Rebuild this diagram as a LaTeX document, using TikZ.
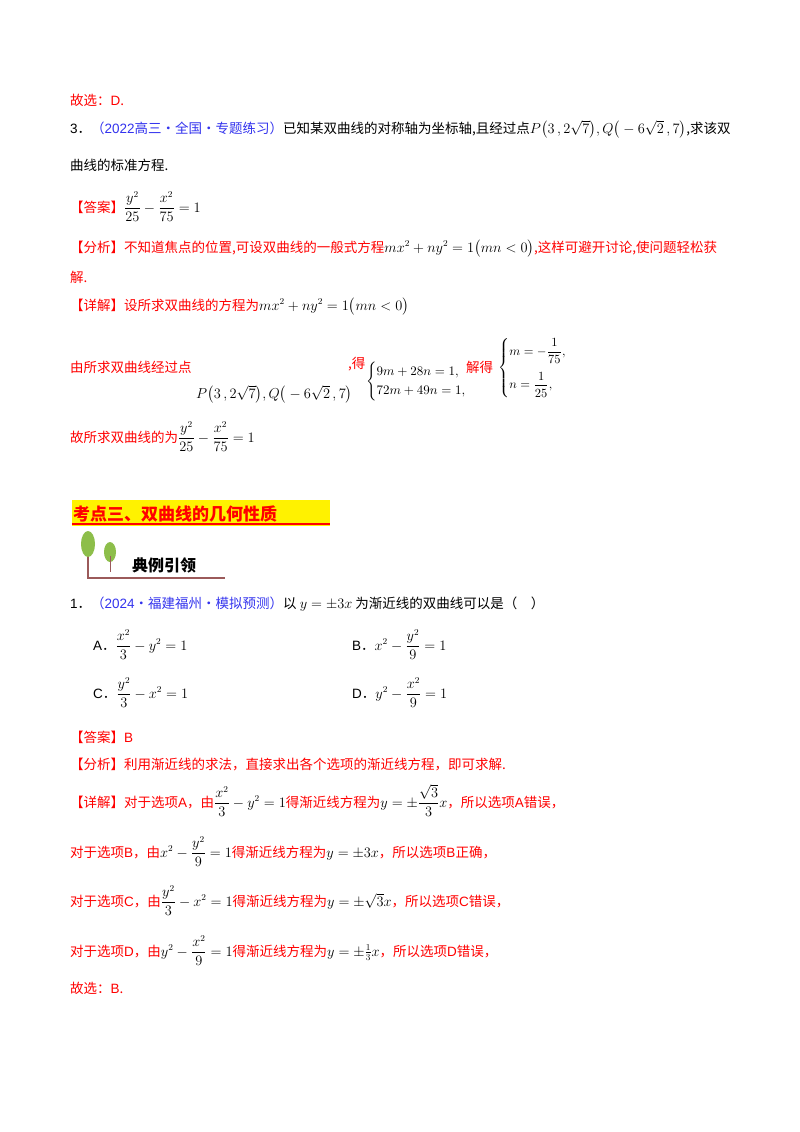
\documentclass[tikz,border=0pt]{standalone}
\usepackage{amsmath}
\usepackage{graphicx}
\usepackage{fontspec}
\setmainfont{Noto Sans CJK SC}
\newfontfamily\lat{Liberation Sans}
\definecolor{rd}{HTML}{FF0000}
\definecolor{bl}{HTML}{3333EE}
\definecolor{lf}{HTML}{8DBE4A}
\definecolor{tr}{HTML}{9B5A5A}
\begin{document}
\begin{tikzpicture}[x=1pt,y=-1pt,
  t/.style={anchor=base west,inner sep=0pt,font=\fontsize{13.5}{16}\selectfont},
  r/.style={t,text=rd}]
\useasboundingbox[fill=white] (0,0) rectangle (800,1132);
\node[r] (l1) at (70,105) {故选：{\lat D}.};
\node[t] (l2) at (70,133) {{\lat 3}．\textcolor{bl}{（{\lat 2022}高三·全国·专题练习）}已知某双曲线的对称轴为坐标轴,且经过点$P\big(3\,,2\sqrt7\big),Q\big(-6\sqrt2\,,7\big)$,求该双};
\node[t] (l3) at (70,170) {曲线的标准方程.};
\node[r] (l4) at (70,212) {【答案】\textcolor{black}{$\dfrac{y^2}{25}-\dfrac{x^2}{75}=1$}};
\node[r] (l5) at (70,252) {【分析】不知道焦点的位置,可设双曲线的一般式方程\textcolor{black}{$mx^2+ny^2=1\big(mn<0\big)$},这样可避开讨论,使问题轻松获};
\node[r] (l6) at (70,282) {解.};
\node[r] (l7) at (70,310) {【详解】设所求双曲线的方程为\textcolor{black}{$mx^2+ny^2=1\big(mn<0\big)$}};
\node[r] (l8) at (70,372) {由所求双曲线经过点};
\node[t] (pq) at (196,398) {$P\big(3\,,2\sqrt7\big),Q\big(-6\sqrt2\,,7\big)$};
\node[r] (de) at (348,368) {,得};
\node[anchor=west,inner sep=0pt] (s1) at (366,381) {\scalebox{1.3}{$\begin{cases}9m+28n=1,\\72m+49n=1,\end{cases}$}};
\node[r] (jd) at (466,372) {解得};
\node[anchor=west,inner sep=0pt] (s2) at (498,368) {\scalebox{1.25}{$\left\{\begin{array}{@{}l@{}}m=-\dfrac{1}{75},\\[10pt] n=\dfrac{1}{25},\end{array}\right.$}};
\node[r] (l9) at (70,442) {故所求双曲线的为\textcolor{black}{$\dfrac{y^2}{25}-\dfrac{x^2}{75}=1$}};
% section header
\fill[yellow] (72,500) rectangle (330,526);
\node[t,text=rd,font=\fontsize{17}{20}\selectfont\bfseries,anchor=base west] (hd) at (73,520) {考点三、双曲线的几何性质};
\draw[rd,line width=1.2pt] (72,524) -- (330,524);
% icon
\draw[tr,line width=1.2pt] (88,555) -- (88,578) -- (225,578);
\fill[lf] (88,544) ellipse (7 and 13);
\fill[lf] (110,552) ellipse (6 and 10);
\draw[tr,line width=0.8pt] (110,556) -- (110,572);
\node[t,font=\fontsize{16}{18}\selectfont\bfseries] (dl) at (132,571) {典例引领};
% question 1
\node[t] (q1) at (70,608) {{\lat 1}．\textcolor{bl}{（{\lat 2024}·福建福州·模拟预测）}以 $y=\pm3x$ 为渐近线的双曲线可以是（　）};
\node[t] (oa) at (93,650) {{\lat A}．$\dfrac{x^2}{3}-y^2=1$};
\node[t] (ob) at (352,650) {{\lat B}．$x^2-\dfrac{y^2}{9}=1$};
\node[t] (oc) at (93,698) {{\lat C}．$\dfrac{y^2}{3}-x^2=1$};
\node[t] (od) at (352,698) {{\lat D}．$y^2-\dfrac{x^2}{9}=1$};
\node[r] (a1) at (70,742) {【答案】{\lat B}};
\node[r] (a2) at (70,769) {【分析】利用渐近线的求法，直接求出各个选项的渐近线方程，即可求解.};
\node[r] (a3) at (70,807) {【详解】对于选项{\lat A}，由\textcolor{black}{$\dfrac{x^2}{3}-y^2=1$}得渐近线方程为\textcolor{black}{$y=\pm\dfrac{\sqrt3}{3}x$}，所以选项{\lat A}错误，};
\node[r] (a4) at (70,857) {对于选项{\lat B}，由\textcolor{black}{$x^2-\dfrac{y^2}{9}=1$}得渐近线方程为\textcolor{black}{$y=\pm3x$}，所以选项{\lat B}正确，};
\node[r] (a5) at (70,906) {对于选项{\lat C}，由\textcolor{black}{$\dfrac{y^2}{3}-x^2=1$}得渐近线方程为\textcolor{black}{$y=\pm\sqrt3x$}，所以选项{\lat C}错误，};
\node[r] (a6) at (70,956) {对于选项{\lat D}，由\textcolor{black}{$y^2-\dfrac{x^2}{9}=1$}得渐近线方程为\textcolor{black}{$y=\pm\frac13x$}，所以选项{\lat D}错误，};
\node[r] (a7) at (70,993) {故选：{\lat B}.};
\end{tikzpicture}
\end{document}
